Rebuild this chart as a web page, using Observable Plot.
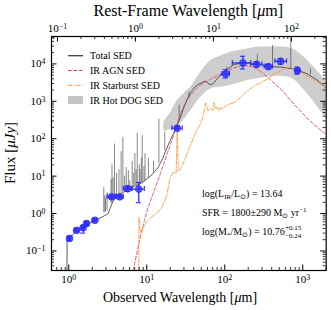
<!DOCTYPE html>
<html><head><meta charset="utf-8">
<script src="https://cdn.jsdelivr.net/npm/d3@7"></script>
<script src="https://cdn.jsdelivr.net/npm/@observablehq/plot@0.6"></script>
<style>body{margin:0;background:#fff}</style>
</head><body><div id="chart"></div>
<script>
// ---------- data ----------
const onePlusZ = 7.15;
const obsMajorTicks = [1, 10, 100, 1000];
const restMajorTicks = [0.1, 1, 10, 100];
const fluxMajorTicks = [0.1, 1, 10, 100, 1000, 10000];

const totWave = [0.948, 0.952, 1.0, 1.1, 1.2, 1.35, 1.5, 1.7, 1.9, 2.1, 2.4, 2.7, 3.0, 3.2, 3.35, 3.6, 4.0, 4.5, 5.0, 5.6, 6.3, 7.0, 8.0, 9.0, 10, 11.2, 12.5, 14, 16, 18, 20, 22, 25, 27, 30, 33, 37, 42, 48, 54, 57, 60, 65, 70, 80, 98, 130, 177, 262, 386, 522, 775, 1150, 1500, 2000];
const totFlux = [0.03, 0.2, 0.22, 0.26, 0.31, 0.37, 0.43, 0.5, 0.57, 0.63, 0.72, 0.82, 0.92, 1.0, 1.3, 1.9, 2.8, 3.3, 3.7, 4.2, 4.8, 5.4, 6.0, 7.0, 8.5, 10, 13, 17, 30, 55, 90, 140, 250, 370, 700, 1150, 1800, 2500, 3000, 3300, 3500, 3100, 2800, 2900, 4000, 6300, 9500, 11000, 10000, 8500, 8200, 7300, 5400, 3800, 2300];

const lineWave = [2.81, 2.9, 2.96, 3.1, 3.48, 3.58, 3.7, 3.86, 4.1, 4.4, 4.69, 4.94, 5.2, 5.45, 5.8, 6.06, 6.5, 6.8, 7.04, 7.3, 7.55, 8.0, 8.2, 8.5, 8.75, 9.2, 9.5, 10.5, 12.2, 14.3, 17, 26, 34.6, 106, 262, 410, 703, 1260];
const lineTop = [4.9, 3.0, 2.6, 3.5, 8, 20, 9, 72, 12, 15, 45, 110, 10, 17, 14, 7.5, 25, 12, 40, 15, 140, 20, 15, 30, 120, 18, 40, 30, 25, 330, 150, 800, 1300, 8100, 18000, 31000, 80000, 7300];
const lineBase = [1.05, 1.08, 1.1, 1.15, 1.8, 2.0, 2.3, 2.6, 2.9, 3.3, 3.5, 3.7, 3.9, 4.1, 4.4, 4.6, 5.0, 5.2, 5.4, 5.6, 5.8, 6.0, 6.2, 6.5, 6.7, 7.1, 7.4, 8.8, 12, 22, 48, 300, 1700, 6500, 10000, 8400, 7400, 5100];

const agnWave = [6.7, 8, 10, 12, 15, 18.3, 22, 26, 30, 36, 45, 55, 66, 80, 103, 130, 177, 220, 280, 352, 450, 550, 702, 900, 1200, 1545, 2000];
const agnFlux = [0.03, 0.17, 1.1, 3.3, 12, 40, 120, 370, 750, 1400, 2400, 3200, 3900, 4800, 6200, 7800, 9000, 8400, 6600, 4400, 2800, 1900, 1040, 600, 320, 200, 130];

const sbWave = [7.9, 7.95, 8.1, 8.4, 9.0, 10, 11.2, 12.3, 14, 16, 18, 20, 22, 23.8, 24.6, 25.4, 27, 30, 35, 40, 45, 49, 53, 57, 61, 66, 70, 73, 77, 80, 84, 88, 93, 98, 108, 119, 140, 160, 195, 250, 352, 450, 575, 636, 720, 850, 1000, 1300, 1700, 2000];
const sbFlux = [0.03, 0.8, 0.45, 0.3, 0.42, 0.6, 0.77, 0.9, 1.1, 1.6, 3, 9, 13, 12, 200, 14, 15, 25, 55, 110, 190, 250, 420, 900, 560, 650, 560, 920, 620, 700, 560, 690, 600, 700, 820, 850, 1000, 1300, 1900, 2700, 3960, 5600, 7350, 8100, 7900, 6800, 5600, 4100, 2900, 2300];

const bandWave = [16.5, 17, 20, 24.6, 30, 36.5, 49, 66, 88, 119, 195, 262, 400, 522, 650, 800, 1040, 1400, 2000];
const bandLow = [230, 160, 175, 210, 320, 550, 1270, 2140, 2360, 2700, 3560, 4000, 4600, 4600, 4400, 3600, 2000, 950, 350];
const bandHigh = [230, 300, 480, 1050, 1600, 2360, 5900, 12300, 16000, 20600, 25000, 27900, 28500, 28500, 27500, 23000, 15000, 8000, 3500];

const ptWave = [1.02, 1.26, 1.53, 1.69, 2.16, 3.55, 4.5, 5.7, 7.9, 24.6, 103, 171, 257, 363, 522, 855];
const ptFlux = [0.216, 0.355, 0.42, 0.54, 0.66, 2.8, 2.8, 4.6, 4.5, 191, 5400, 10600, 9750, 8470, 11700, 6600];
const ptWaveLo = [0.98, 1.2, 1.46, 1.61, 2.04, 3.1, 4.0, 5.0, 6.5, 21, 92, 125, 215, 320, 440, 810];
const ptWaveHi = [1.06, 1.32, 1.6, 1.77, 2.28, 4.0, 5.0, 6.4, 9.3, 28.5, 115, 215, 300, 410, 620, 900];
const ptFluxLo = [0.19, 0.32, 0.3, 0.48, 0.6, 2.5, 2.5, 3.9, 1.95, 172, 4200, 7300, 8300, 7400, 9800, 5300];
const ptFluxHi = [0.24, 0.39, 0.46, 0.61, 0.73, 3.1, 3.1, 5.4, 6.8, 212, 7000, 16000, 11400, 9700, 14000, 8200];

const legendLabels = ["Total SED", "IR AGN SED", "IR Starburst SED", "IR Hot DOG SED"];

// ---------- build tables ----------
const total = totWave.map((x, i) => ({x, y: totFlux[i]}));
const lines = lineWave.map((x, i) => ({x, y1: lineBase[i], y2: lineTop[i]}));
const agn = agnWave.map((x, i) => ({x, y: agnFlux[i]}));
const sb = sbWave.map((x, i) => ({x, y: sbFlux[i]}));
const band = bandWave.map((x, i) => ({x, lo: bandLow[i], hi: bandHigh[i]}));
const pts = ptWave.map((x, i) => ({x, y: ptFlux[i], xlo: ptWaveLo[i], xhi: ptWaveHi[i], ylo: ptFluxLo[i], yhi: ptFluxHi[i]}));

const W = 331, H = 310, mL = 51, mR = 5.3, mT = 36, mB = 40;
const fw = W - mL - mR, fh = H - mT - mB;
const xDom = [0.6, 2000], yDom = [0.03, 5.4e4];

const inDom = (d, dom) => d >= dom[0] * 0.9999 && d <= dom[1] * 1.0001;
const isMajor = (d, majors) => majors.some(m => Math.abs(m - d) / m < 1e-6);
const obsMinor = d3.scaleLog().domain(xDom).ticks().filter(d => inDom(d, xDom) && !isMajor(d, obsMajorTicks));
const restDom = xDom.map(d => d / onePlusZ);
const restMinor = d3.scaleLog().domain(restDom).ticks().filter(d => inDom(d, restDom) && !isMajor(d, restMajorTicks)).map(d => d * onePlusZ);
const restMajorObs = restMajorTicks.map(d => d * onePlusZ);
const yMinor = d3.scaleLog().domain(yDom).ticks().filter(d => inDom(d, yDom) && !isMajor(d, fluxMajorTicks));

const blue = "#2b2bff";
const font = "Liberation Serif, Times New Roman, serif";

const plot = Plot.plot({
  width: W, height: H,
  marginLeft: mL, marginRight: mR, marginTop: mT, marginBottom: mB,
  style: {fontFamily: font, background: "white", color: "black"},
  x: {type: "log", domain: xDom, axis: null},
  y: {type: "log", domain: yDom, axis: null},
  marks: [
    Plot.areaY(band, {x: "x", y1: "lo", y2: "hi", fill: "#c4c4c4", fillOpacity: 0.85, curve: "catmull-rom", clip: true}),
    Plot.ruleX(lines, {x: "x", y1: "y1", y2: "y2", stroke: "#404040", strokeWidth: 0.9, strokeOpacity: 0.7, clip: true}),
    Plot.line(total, {x: "x", y: "y", stroke: "#404040", strokeWidth: 1, strokeOpacity: 0.85, clip: true}),
    Plot.line(agn, {x: "x", y: "y", stroke: "#e8404f", strokeWidth: 1, strokeOpacity: 0.85, strokeDasharray: "3.5,2", curve: "catmull-rom", clip: true}),
    Plot.line(sb, {x: "x", y: "y", stroke: "#f79a45", strokeWidth: 1, strokeOpacity: 0.9, strokeDasharray: "4,1.5,1,1.5", clip: true}),
    // error bars
    Plot.ruleY(pts, {y: "y", x1: "xlo", x2: "xhi", stroke: blue, strokeWidth: 1.3}),
    Plot.ruleX(pts, {x: "x", y1: "ylo", y2: "yhi", stroke: blue, strokeWidth: 1.3}),
    Plot.ruleY(pts, {y: "ylo", x1: "x", x2: "x", insetLeft: -2.5, insetRight: -2.5, stroke: blue, strokeWidth: 1.1}),
    Plot.ruleY(pts, {y: "yhi", x1: "x", x2: "x", insetLeft: -2.5, insetRight: -2.5, stroke: blue, strokeWidth: 1.1}),
    Plot.ruleX(pts, {x: "xlo", y1: "y", y2: "y", insetTop: -2.5, insetBottom: -2.5, stroke: blue, strokeWidth: 1.1}),
    Plot.ruleX(pts, {x: "xhi", y1: "y", y2: "y", insetTop: -2.5, insetBottom: -2.5, stroke: blue, strokeWidth: 1.1}),
    Plot.dot(pts, {x: "x", y: "y", r: 3.4, fill: blue, fillOpacity: 0.7, stroke: blue, strokeWidth: 0.8}),
    // tick marks (inward)
    Plot.tickX(obsMajorTicks, {x: d => d, insetTop: fh - 5.5, stroke: "black", strokeWidth: 1}),
    Plot.tickX(obsMinor, {x: d => d, insetTop: fh - 3, stroke: "black", strokeWidth: 0.8}),
    Plot.tickX(restMajorObs, {x: d => d, insetBottom: fh - 5.5, stroke: "black", strokeWidth: 1}),
    Plot.tickX(restMinor, {x: d => d, insetBottom: fh - 3, stroke: "black", strokeWidth: 0.8}),
    Plot.tickY(fluxMajorTicks, {y: d => d, insetRight: fw - 5.5, stroke: "black", strokeWidth: 1}),
    Plot.tickY(yMinor, {y: d => d, insetRight: fw - 3, stroke: "black", strokeWidth: 0.8}),
    Plot.tickY(fluxMajorTicks, {y: d => d, insetLeft: fw - 5.5, stroke: "black", strokeWidth: 1}),
    Plot.tickY(yMinor, {y: d => d, insetLeft: fw - 3, stroke: "black", strokeWidth: 0.8}),
    Plot.frame({stroke: "black", strokeWidth: 1.2}),
    // tick labels
    Plot.axisX({anchor: "bottom", ticks: obsMajorTicks, tickSize: 0, tickPadding: 5, fontSize: 11, label: null,
      tickFormat: d => "10^" + Math.round(Math.log10(d))}),
    Plot.text(restMajorObs, {x: d => d, frameAnchor: "top", dy: -4.5, lineAnchor: "bottom", fontSize: 11,
      text: d => "10^" + Math.round(Math.log10(d / onePlusZ))}),
    Plot.axisY({anchor: "left", ticks: fluxMajorTicks, tickSize: 0, tickPadding: 6, fontSize: 11, label: null,
      tickFormat: d => "10^" + Math.round(Math.log10(d))})
  ]
});
document.getElementById("chart").appendChild(plot);

const svg = d3.select(plot);
// superscripts on tick labels
svg.selectAll("text").each(function() {
  const m = /^10\^(-?\d+)$/.exec(this.textContent);
  if (!m) return;
  const e = m[1].replace("-", "\u2212");
  const el = d3.select(this);
  el.text("10");
  el.append("tspan").attr("dy", "-0.42em").attr("font-size", "0.72em").text(e);
});

const g = svg.append("g").attr("font-family", font).attr("fill", "black").attr("text-anchor", "start");
// axis titles
const tTop = g.append("text").attr("x", mL + fw / 2).attr("y", 16).attr("text-anchor", "middle").attr("font-size", 16);
tTop.append("tspan").text("Rest-Frame Wavelength [");
tTop.append("tspan").attr("font-style", "italic").text("\u03bc");
tTop.append("tspan").text("m]");
const tBot = g.append("text").attr("x", 180).attr("y", 302).attr("text-anchor", "middle").attr("font-size", 14);
tBot.append("tspan").text("Observed Wavelength [");
tBot.append("tspan").attr("font-style", "italic").text("\u03bc");
tBot.append("tspan").text("m]");
const tY = g.append("text").attr("transform", `translate(15,${mT + fh / 2}) rotate(-90)`).attr("text-anchor", "middle").attr("font-size", 15);
tY.append("tspan").text("Flux [");
tY.append("tspan").attr("font-style", "italic").text("\u03bcJy");
tY.append("tspan").text("]");

// legend
const lg = g.append("g").attr("font-size", 10);
const rowsY = [55.7, 70.5, 85.3, 100];
lg.append("line").attr("x1", 68).attr("x2", 83).attr("y1", rowsY[0]).attr("y2", rowsY[0]).attr("stroke", "#404040").attr("stroke-width", 1.3);
lg.append("line").attr("x1", 68).attr("x2", 83).attr("y1", rowsY[1]).attr("y2", rowsY[1]).attr("stroke", "#e8404f").attr("stroke-width", 1).attr("stroke-dasharray", "3.5,2");
lg.append("line").attr("x1", 68).attr("x2", 83).attr("y1", rowsY[2]).attr("y2", rowsY[2]).attr("stroke", "#f79a45").attr("stroke-width", 1).attr("stroke-dasharray", "4,1.5,1,1.5");
lg.append("rect").attr("x", 68).attr("width", 15).attr("y", rowsY[3] - 4).attr("height", 8).attr("fill", "#c4c4c4");
legendLabels.forEach((t, i) => lg.append("text").attr("x", 90).attr("y", rowsY[i] + 3.5).text(t));

// annotations
const ag = g.append("g").attr("font-size", 10);
const a1 = ag.append("text").attr("x", 202).attr("y", 197);
a1.append("tspan").text("log(L");
a1.append("tspan").attr("font-size", 7).attr("dy", 2).text("IR");
a1.append("tspan").attr("dy", -2).text("/L");
a1.append("tspan").attr("font-size", 7).attr("dy", 2).text("\u2299");
a1.append("tspan").attr("dy", -2).text(") = 13.64");
const a2 = ag.append("text").attr("x", 202).attr("y", 216);
a2.append("tspan").text("SFR = 1800\u00b1290 M");
a2.append("tspan").attr("font-size", 7).attr("dy", 2).text("\u2299");
a2.append("tspan").attr("dy", -2).text(" yr");
a2.append("tspan").attr("font-size", 7).attr("dy", -4).text("\u22121");
const a3 = ag.append("text").attr("x", 202).attr("y", 234.5);
a3.append("tspan").text("log(M");
a3.append("tspan").attr("font-size", 7).attr("dy", 2).text("*");
a3.append("tspan").attr("dy", -2).text("/M");
a3.append("tspan").attr("font-size", 7).attr("dy", 2).text("\u2299");
a3.append("tspan").attr("dy", -2).text(") = 10.76");
const w3 = a3.node().getComputedTextLength();
ag.append("text").attr("x", 202 + w3 + 0.5).attr("y", 230).attr("font-size", 7).text("+0.15");
ag.append("text").attr("x", 202 + w3 + 0.5).attr("y", 238).attr("font-size", 7).text("\u22120.24");
</script>
</body></html>
